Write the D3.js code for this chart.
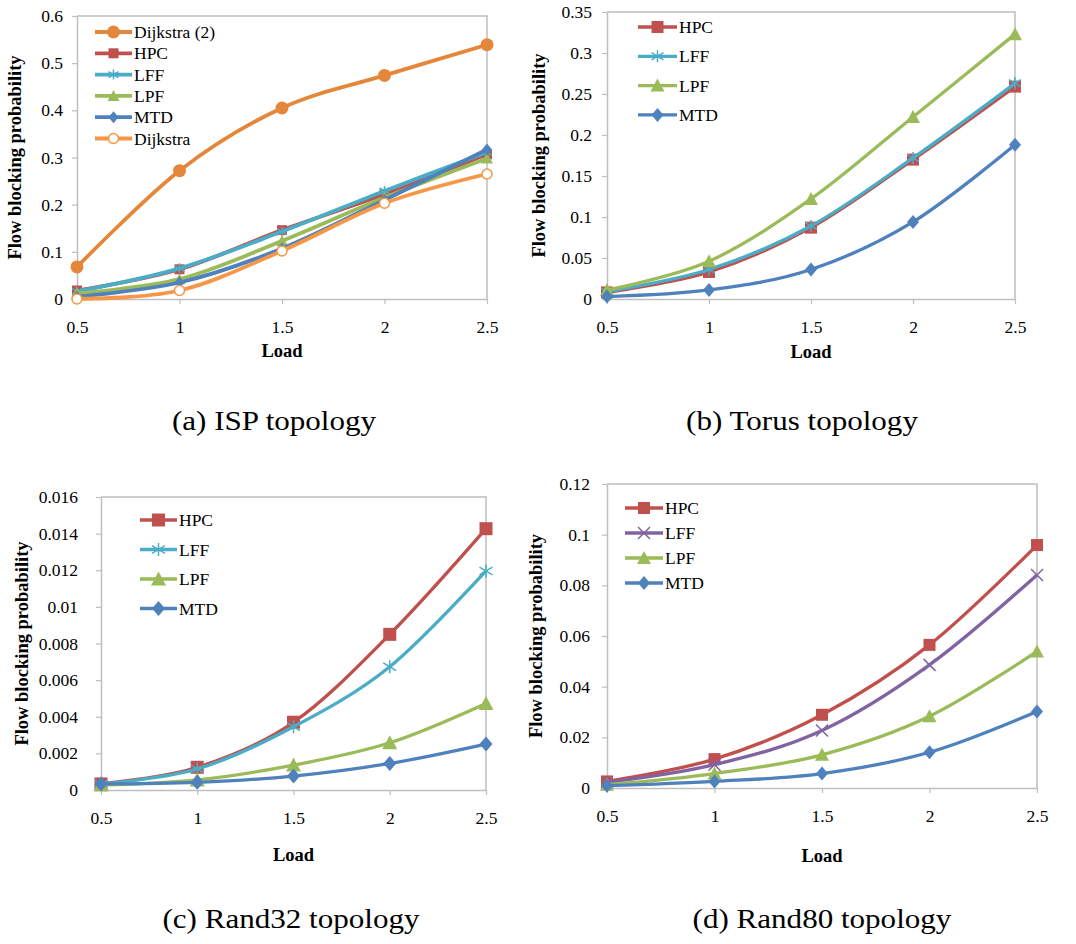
<!DOCTYPE html>
<html>
<head>
<meta charset="utf-8">
<script src="https://cdn.jsdelivr.net/npm/d3@7/dist/d3.min.js"></script>
<style>
  body { margin: 0; background: #fff; }
  svg { display: block; }
  svg text { font-family: "Liberation Serif", "Times New Roman", Times, serif; }
</style>
</head>
<body>
<svg width="1076" height="944"></svg>
<script>
const loads = [0.5, 1, 1.5, 2, 2.5];
const xTicks = [0.5, 1, 1.5, 2, 2.5];

// (a) ISP topology
const ispNames = ["Dijkstra (2)", "HPC", "LFF", "LPF", "MTD", "Dijkstra"];
const ispDijkstra2 = [0.068, 0.272, 0.405, 0.474, 0.539];
const ispHPC = [0.018, 0.063, 0.146, 0.222, 0.307];
const ispLFF = [0.016, 0.065, 0.143, 0.229, 0.311];
const ispLPF = [0.012, 0.042, 0.123, 0.215, 0.298];
const ispMTD = [0.005, 0.035, 0.107, 0.21, 0.317];
const ispDijkstra = [0.0, 0.018, 0.102, 0.203, 0.265];
const ispTicks = [0, 0.1, 0.2, 0.3, 0.4, 0.5, 0.6];

// (b) Torus topology
const torusNames = ["HPC", "LFF", "LPF", "MTD"];
const torusHPC = [0.008, 0.033, 0.087, 0.17, 0.259];
const torusLFF = [0.009, 0.036, 0.089, 0.172, 0.263];
const torusLPF = [0.011, 0.046, 0.122, 0.222, 0.323];
const torusMTD = [0.003, 0.011, 0.036, 0.094, 0.188];
const torusTicks = [0, 0.05, 0.1, 0.15, 0.2, 0.25, 0.3, 0.35];

// (c) Rand32 topology
const r32Names = ["HPC", "LFF", "LPF", "MTD"];
const r32HPC = [0.00033, 0.00124, 0.0037, 0.0085, 0.01427];
const r32LFF = [0.00033, 0.00115, 0.00345, 0.00673, 0.01196];
const r32LPF = [0.00027, 0.00055, 0.00136, 0.00258, 0.00473];
const r32MTD = [0.00033, 0.00042, 0.00076, 0.00145, 0.00251];
const r32Ticks = [0, 0.002, 0.004, 0.006, 0.008, 0.01, 0.012, 0.014, 0.016];

// (d) Rand80 topology
const r80Names = ["HPC", "LFF", "LPF", "MTD"];
const r80HPC = [0.0026, 0.0114, 0.0289, 0.0565, 0.0959];
const r80LFF = [0.0022, 0.0092, 0.0227, 0.0486, 0.0841];
const r80LPF = [0.0013, 0.0057, 0.0131, 0.0283, 0.0539];
const r80MTD = [0.0009, 0.0026, 0.0057, 0.0141, 0.0302];
const r80Ticks = [0, 0.02, 0.04, 0.06, 0.08, 0.1, 0.12];

const captions = ["(a) ISP topology", "(b) Torus topology", "(c) Rand32 topology", "(d) Rand80 topology"];

const C = {
  red: "#c0504d", blue: "#4f81bd", green: "#9bbb59", purple: "#8064a2",
  aqua: "#4bacc6", orange: "#f79646", darkOrange: "#e4873b"
};

const panels = [
  {
    box: { l: 77, r: 487, t: 16, b: 299 }, ticks: ispTicks, yPad: 9, ylabX: 15, loadY: 357,
    legend: { x1: 95, x2: 132, y: 32, dy: 21.3 }, msize: 10, lw: 3.8,
    series: [
      { name: ispNames[0], v: ispDijkstra2, color: C.darkOrange, m: "circle" },
      { name: ispNames[1], v: ispHPC, color: C.red, m: "square" },
      { name: ispNames[2], v: ispLFF, color: C.aqua, m: "star" },
      { name: ispNames[3], v: ispLPF, color: C.green, m: "triangle" },
      { name: ispNames[4], v: ispMTD, color: C.blue, m: "diamond" },
      { name: ispNames[5], v: ispDijkstra, color: C.orange, m: "ocircle" }
    ],
    caption: { x: 274, y: 430 }
  },
  {
    box: { l: 607, r: 1015, t: 12, b: 299 }, ticks: torusTicks, yPad: 10, ylabX: 539, loadY: 358,
    legend: { x1: 638, x2: 677, y: 27, dy: 29.3 }, msize: 12, lw: 3.3,
    series: [
      { name: torusNames[0], v: torusHPC, color: C.red, m: "square" },
      { name: torusNames[1], v: torusLFF, color: C.aqua, m: "star" },
      { name: torusNames[2], v: torusLPF, color: C.green, m: "triangle" },
      { name: torusNames[3], v: torusMTD, color: C.blue, m: "diamond" }
    ],
    caption: { x: 802, y: 430 }
  },
  {
    box: { l: 101, r: 486, t: 497, b: 790 }, ticks: r32Ticks, yPad: 18, ylabX: 22, loadY: 861,
    legend: { x1: 140, x2: 177, y: 520, dy: 29.5 }, msize: 13, lw: 3.3,
    series: [
      { name: r32Names[0], v: r32HPC, color: C.red, m: "square" },
      { name: r32Names[1], v: r32LFF, color: C.aqua, m: "star" },
      { name: r32Names[2], v: r32LPF, color: C.green, m: "triangle" },
      { name: r32Names[3], v: r32MTD, color: C.blue, m: "diamond" }
    ],
    caption: { x: 291, y: 928 }
  },
  {
    box: { l: 607, r: 1037, t: 484, b: 788 }, ticks: r80Ticks, yPad: 12, ylabX: 536, loadY: 862,
    legend: { x1: 625, x2: 663, y: 508, dy: 25 }, msize: 12, lw: 3.3,
    series: [
      { name: r80Names[0], v: r80HPC, color: C.red, m: "square" },
      { name: r80Names[1], v: r80LFF, color: C.purple, m: "cross" },
      { name: r80Names[2], v: r80LPF, color: C.green, m: "triangle" },
      { name: r80Names[3], v: r80MTD, color: C.blue, m: "diamond" }
    ],
    caption: { x: 822, y: 928 }
  }
];

const svg = d3.select("svg");
svg.append("rect").attr("width", 1076).attr("height", 944).attr("fill", "#fff");

const axisGray = "#bfbfbf";

function marker(g, type, x, y, color, s) {
  const h = s / 2;
  if (type === "square") {
    g.append("rect").attr("x", x - h).attr("y", y - h).attr("width", s).attr("height", s).attr("fill", color);
  } else if (type === "circle") {
    g.append("circle").attr("cx", x).attr("cy", y).attr("r", h + 1.5).attr("fill", color);
  } else if (type === "ocircle") {
    g.append("circle").attr("cx", x).attr("cy", y).attr("r", h).attr("fill", "#fff")
      .attr("stroke", color).attr("stroke-width", 1.5);
  } else if (type === "triangle") {
    g.append("path").attr("d", `M${x},${y - h - 1}L${x + h + 1},${y + h}L${x - h - 1},${y + h}Z`).attr("fill", color);
  } else if (type === "diamond") {
    g.append("path").attr("d", `M${x},${y - h - 1}L${x + h},${y}L${x},${y + h + 1}L${x - h},${y}Z`).attr("fill", color);
  } else if (type === "star") {
    g.append("path")
      .attr("d", `M${x},${y - h}L${x},${y + h}M${x - h},${y - h * 0.6}L${x + h},${y + h * 0.6}M${x - h},${y + h * 0.6}L${x + h},${y - h * 0.6}`)
      .attr("stroke", color).attr("stroke-width", 1.5).attr("fill", "none");
  } else if (type === "cross") {
    g.append("path")
      .attr("d", `M${x - h},${y - h}L${x + h},${y + h}M${x - h},${y + h}L${x + h},${y - h}`)
      .attr("stroke", color).attr("stroke-width", 1.5).attr("fill", "none");
  }
}

panels.forEach((p, i) => {
  const g = svg.append("g");
  const x = d3.scaleLinear().domain([0.5, 2.5]).range([p.box.l, p.box.r]);
  const y = d3.scaleLinear().domain([0, d3.max(p.ticks)]).range([p.box.b, p.box.t]);

  // frame (top / right)
  g.append("path")
    .attr("d", `M${p.box.l},${p.box.t}H${p.box.r}V${p.box.b}`)
    .attr("fill", "none").attr("stroke", axisGray).attr("stroke-width", 1.5);

  const yAxis = g.append("g").attr("transform", `translate(${p.box.l},0)`)
    .call(d3.axisLeft(y).tickValues(p.ticks).tickSizeInner(5).tickSizeOuter(0)
      .tickPadding(p.yPad).tickFormat(d => String(d)));
  const xAxis = g.append("g").attr("transform", `translate(0,${p.box.b})`)
    .call(d3.axisBottom(x).tickValues(xTicks).tickSizeInner(5).tickSizeOuter(0)
      .tickPadding(17).tickFormat(d => String(d)));
  [yAxis, xAxis].forEach(a => {
    a.attr("font-family", null);
    a.select(".domain").attr("stroke", axisGray).attr("stroke-width", 1.5);
    a.selectAll(".tick line").attr("stroke", axisGray).attr("stroke-width", 1.2);
    a.selectAll("text").attr("font-size", 17.5).attr("fill", "#000");
  });

  // axis titles
  g.append("text")
    .attr("transform", `translate(${p.ylabX},${(p.box.t + p.box.b) / 2}) rotate(-90)`)
    .attr("text-anchor", "middle").attr("dominant-baseline", "central")
    .attr("font-weight", "bold").attr("font-size", 18.5)
    .text("Flow blocking probability");
  g.append("text")
    .attr("x", (p.box.l + p.box.r) / 2).attr("y", p.loadY)
    .attr("text-anchor", "middle")
    .attr("font-weight", "bold").attr("font-size", 18.5)
    .text("Load");

  const line = d3.line().x((d, j) => x(loads[j])).y(d => y(d)).curve(d3.curveCardinal.tension(0));

  p.series.forEach(s => {
    g.append("path").attr("d", line(s.v)).attr("fill", "none")
      .attr("stroke", s.color).attr("stroke-width", p.lw).attr("stroke-linejoin", "round");
    s.v.forEach((v, j) => marker(g, s.m, x(loads[j]), y(v), s.color, p.msize));
  });

  // legend
  p.series.forEach((s, k) => {
    const ly = p.legend.y + k * p.legend.dy;
    g.append("line").attr("x1", p.legend.x1).attr("x2", p.legend.x2).attr("y1", ly).attr("y2", ly)
      .attr("stroke", s.color).attr("stroke-width", p.lw);
    marker(g, s.m, (p.legend.x1 + p.legend.x2) / 2, ly, s.color, p.msize);
    g.append("text").attr("x", p.legend.x2 + 2).attr("y", ly).attr("dominant-baseline", "central")
      .attr("font-size", 17.5).text(s.name);
  });

  // caption, slightly widened like the reference
  const cap = svg.append("text").attr("x", p.caption.x).attr("y", p.caption.y)
    .attr("text-anchor", "middle").attr("font-size", 27)
    .text(captions[i]);
  const w = cap.node().getComputedTextLength();
  cap.attr("textLength", w * 1.15).attr("lengthAdjust", "spacingAndGlyphs");
});
</script>
</body>
</html>
